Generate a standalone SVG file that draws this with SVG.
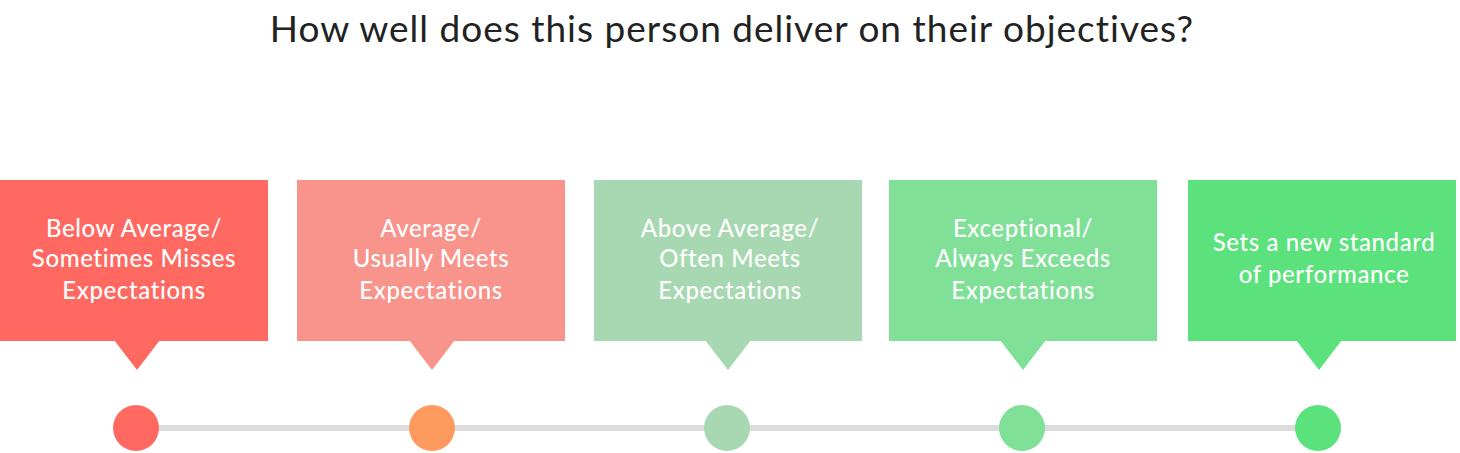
<svg xmlns="http://www.w3.org/2000/svg" width="1460" height="453" viewBox="0 0 1460 453">
<style>
.t{font-family:Lato,"Noto Sans",sans-serif;font-size:24px;letter-spacing:0.6px;fill:#fff;text-anchor:middle;font-weight:500}
.h{font-family:Lato,"Noto Sans",sans-serif;font-size:37px;letter-spacing:1px;fill:#222;text-anchor:middle}
</style>
<rect width="1460" height="453" fill="#fff"/>
<text class="h" x="732" y="42">How well does this person deliver on their objectives?</text>
<g id="connectors"><line x1="137" y1="428" x2="1319" y2="428" stroke="#dcdcdc" stroke-width="6"/></g>
<g id="n1"><rect x="0" y="180" width="268" height="161" fill="#ff6961"/><polygon points="114,340 160,340 137,370" fill="#ff6961"/>
<text class="t"><tspan x="134" y="237">Below Average/</tspan><tspan x="134" y="267">Sometimes Misses</tspan><tspan x="134" y="299">Expectations</tspan></text>
<circle cx="136" cy="428" r="23" fill="#ff6961"/></g>
<g id="n2"><rect x="297" y="180" width="268" height="161" fill="#f8948c"/><polygon points="409,340 455,340 432,370" fill="#f8948c"/>
<text class="t"><tspan x="431" y="237">Average/</tspan><tspan x="431" y="267">Usually Meets</tspan><tspan x="431" y="299">Expectations</tspan></text>
<circle cx="432" cy="428" r="23" fill="#ff9a5e"/></g>
<g id="n3"><rect x="594" y="180" width="268" height="161" fill="#a7d8b1"/><polygon points="705,340 751,340 728,370" fill="#a7d8b1"/>
<text class="t"><tspan x="730" y="237">Above Average/</tspan><tspan x="730" y="267">Often Meets</tspan><tspan x="730" y="299">Expectations</tspan></text>
<circle cx="727" cy="428" r="23" fill="#a7d8b1"/></g>
<g id="n4"><rect x="889" y="180" width="268" height="161" fill="#80e098"/><polygon points="1000,340 1046,340 1023,370" fill="#80e098"/>
<text class="t"><tspan x="1023" y="237">Exceptional/</tspan><tspan x="1023" y="267">Always Exceeds</tspan><tspan x="1023" y="299">Expectations</tspan></text>
<circle cx="1022" cy="428" r="23" fill="#80e098"/></g>
<g id="n5"><rect x="1188" y="180" width="268" height="161" fill="#5ce27d"/><polygon points="1296,340 1342,340 1319,370" fill="#5ce27d"/>
<text class="t"><tspan x="1324" y="251">Sets a new standard</tspan><tspan x="1324" y="283">of performance</tspan></text>
<circle cx="1318" cy="428" r="23" fill="#5ce27d"/></g>
</svg>
